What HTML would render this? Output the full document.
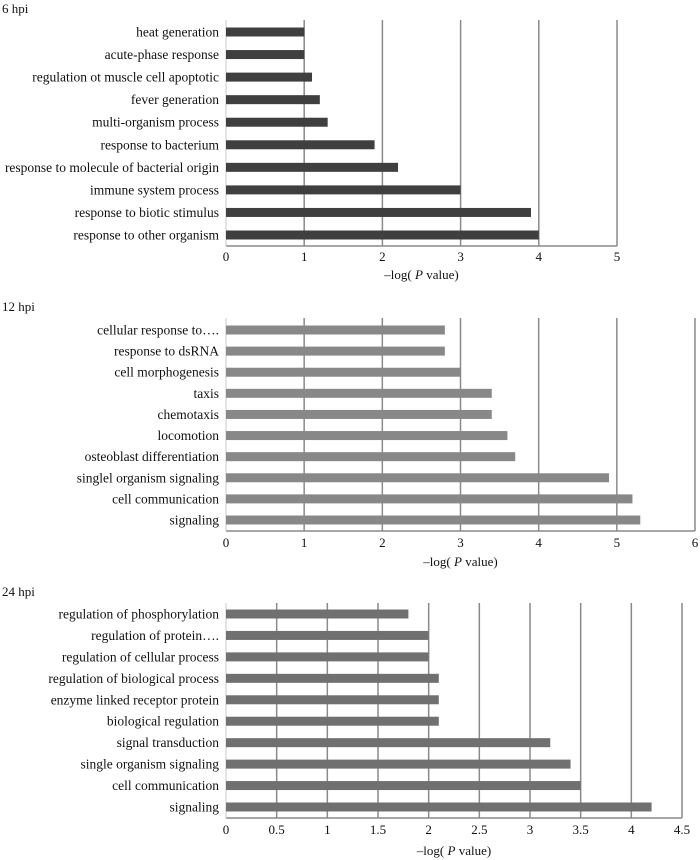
<!DOCTYPE html>
<html><head><meta charset="utf-8"><style>
body{margin:0;background:#fff;}
svg{display:block;font-family:"Liberation Serif",serif;}
</style></head><body>
<svg id="c" width="700" height="860"></svg>
<script>
const cats6=["heat generation","acute-phase response","regulation ot muscle cell apoptotic","fever generation","multi-organism process","response to bacterium","response to molecule of bacterial origin","immune system process","response to biotic stimulus","response to other organism"];
const vals6=[1,1,1.1,1.2,1.3,1.9,2.2,3,3.9,4];
const ticks6=[0,1,2,3,4,5];
const cats12=["cellular response to\u2026.","response to dsRNA","cell morphogenesis","taxis","chemotaxis","locomotion","osteoblast differentiation","singlel organism signaling","cell communication","signaling"];
const vals12=[2.8,2.8,3,3.4,3.4,3.6,3.7,4.9,5.2,5.3];
const ticks12=[0,1,2,3,4,5,6];
const cats24=["regulation of phosphorylation","regulation of protein\u2026.","regulation of cellular process","regulation of biological process","enzyme linked receptor protein","biological regulation","signal transduction","single organism signaling","cell communication","signaling"];
const vals24=[1.8,2,2,2.1,2.1,2.1,3.2,3.4,3.5,4.2];
const ticks24=[0,0.5,1,1.5,2,2.5,3,3.5,4,4.5];

const NS="http://www.w3.org/2000/svg";
const svg=document.getElementById('c');
function mk(tag,attrs,parent){const e=document.createElementNS(NS,tag);for(const k in attrs)e.setAttribute(k,attrs[k]);(parent||svg).appendChild(e);return e;}

function panel(id,title,cats,vals,ticks,o){
  const g=mk('g',{});
  
  
  const max=ticks[ticks.length-1];
  const x=v=>o.x0+(o.x1-o.x0)*v/max;
  const n=cats.length;
  const y=i=>o.c0+(o.c1-o.c0)*i/(n-1);
  const t=mk('text',{x:2,y:o.titleY,'font-size':13,fill:'#111'},g);t.textContent=title;
  
  
  ticks.forEach(tv=>{
    if(tv>0){const l=mk('line',{x1:x(tv),x2:x(tv),y1:o.top,y2:o.bot,stroke:'#8a8a8a','stroke-width':1.5},g);
    
    }
    const tl=mk('text',{x:x(tv),y:o.tickY,'font-size':13,'text-anchor':'middle',fill:'#111'},g);tl.textContent=tv;
    
    
  });
  const ax=mk('line',{x1:o.x0,x2:o.x1,y1:o.bot,y2:o.bot,stroke:'#8a8a8a','stroke-width':1.5},g);
  
  
  const ay=mk('line',{x1:o.x0,x2:o.x0,y1:o.top,y2:o.bot,stroke:'#c8c8c8','stroke-width':1},g);
  
  
  cats.forEach((c,i)=>{
    const r=mk('rect',{x:x(0),y:y(i)-4.5,width:x(vals[i])-x(0),height:9,fill:o.color},g);
    
    
    const lb=mk('text',{x:o.x0-7,y:y(i)+4.5,'font-size':13.5,'text-anchor':'end',fill:'#111'},g);lb.textContent=c;
    
    
  });
  const at=mk('text',{x:(o.x0+o.x1)/2,y:o.axY,'font-size':13,'text-anchor':'middle',fill:'#111'},g);
  at.innerHTML='\u2013log( <tspan font-style="italic">P</tspan> value)';
  
  
}
panel('p6','6 hpi',cats6,vals6,ticks6,{x0:226,x1:617,top:20,bot:246,c0:32,c1:235,tickY:261,axY:279,titleY:13,color:'#3f3f3f'});
panel('p12','12 hpi',cats12,vals12,ticks12,{x0:226,x1:695,top:318,bot:531,c0:330,c1:520,tickY:547,axY:566,titleY:311,color:'#888888'});
panel('p24','24 hpi',cats24,vals24,ticks24,{x0:226,x1:682,top:603,bot:818,c0:614,c1:807,tickY:834,axY:855,titleY:596,color:'#707070'});
</script>
</body></html>
